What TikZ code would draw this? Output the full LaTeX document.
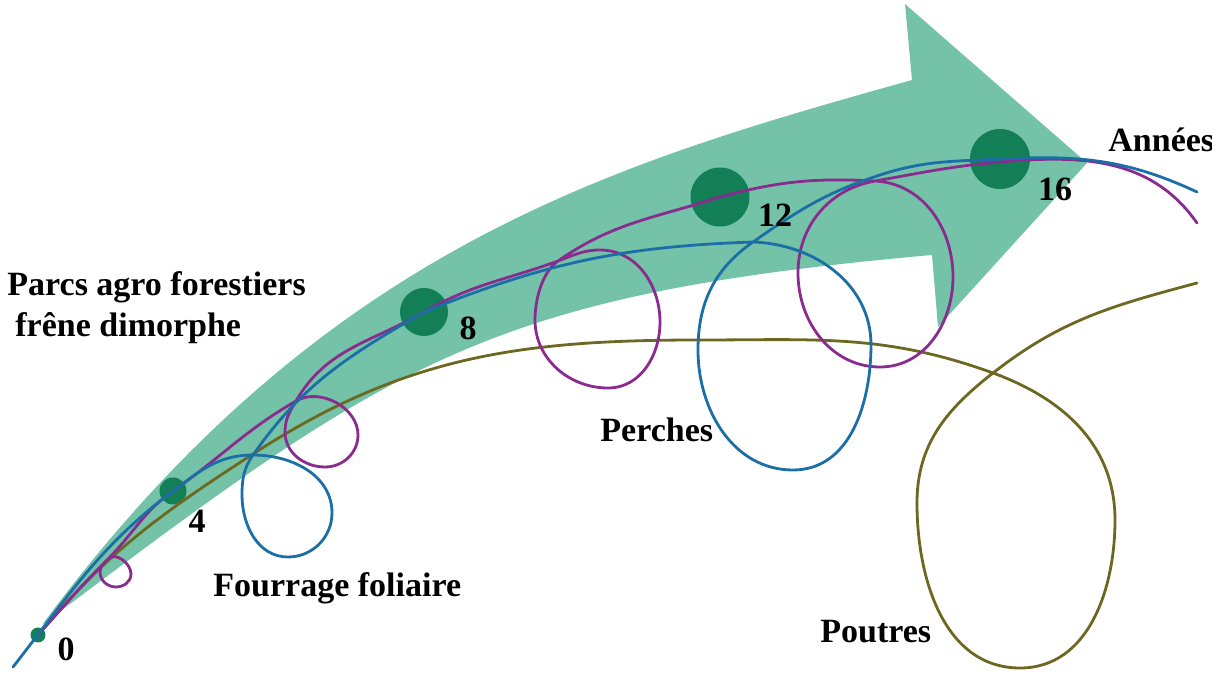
\documentclass[tikz,border=0pt]{standalone}
\usepackage{fontspec}
\setmainfont{Liberation Serif}
\definecolor{arrowgreen}{HTML}{74C3A8}
\definecolor{dotgreen}{HTML}{127F57}
\definecolor{leafpurple}{HTML}{8A2B8F}
\definecolor{poleblue}{HTML}{1C6FA6}
\definecolor{beamolive}{HTML}{6D6821}
\tikzset{
  yeardot/.style={circle, fill=dotgreen, inner sep=0pt},
  yearnum/.style={font=\bfseries\fontsize{17}{20}\selectfont},
  phase/.style={font=\bfseries\fontsize{17}{20.5}\selectfont, anchor=base west},
  track/.style={line width=1.4pt, line cap=round, line join=round},
}

\begin{document}
\begin{tikzpicture}[x=0.5pt,y=0.5pt]
    \tikzstyle{every node}+=[inner sep=0pt]
    \useasboundingbox (0,0) rectangle (1212,-673);
    \fill [arrowgreen] (42,-625) .. controls (322,-247) and (612,-164) .. (912,-80)
      -- (905,-4) -- (1087,-163) -- (938,-327) -- (932,-255)
      .. controls (482,-295) and (392,-362) .. (42,-625) -- cycle;
    \node [yeardot, minimum size=7.5pt] (y0) at (38,-635) {};
    \node [yeardot, minimum size=13.5pt] (y4) at (173,-491) {};
    \node [yeardot, minimum size=24pt] (y8) at (424,-312) {};
    \node [yeardot, minimum size=29.5pt] (y12) at (720,-197) {};
    \node [yeardot, minimum size=30pt] (y16) at (1000,-159) {};
    \coordinate (bstart) at (13,-667);
    \coordinate (bx1) at (253,-455);
    \coordinate (bx2) at (753,-242);
    \coordinate (bend) at (1197,-192);
    \coordinate (px1) at (108,-559);
    \coordinate (px2) at (296,-401);
    \coordinate (px3) at (558,-261);
    \coordinate (px4) at (875,-181);
    \coordinate (p16) at (1000,-162);
    \coordinate (pend) at (1197,-223);
    \coordinate (ox1) at (253,-454);
    \coordinate (otop) at (700,-340);
    \coordinate (ox2) at (993,-373);
    \coordinate (oend) at (1197,-283);
    \draw [track, beamolive] (y0.center) to[out=50,in=213] (ox1) to[out=33,in=180] (otop)
      to[out=0,in=160] (ox2) to[out=-20,in=90] (1115,-520) to[out=-90,in=0] (1020,-668)
      to[out=180,in=-90] (917,-503) to[out=90,in=218] (ox2) to[out=38,in=195] (oend);
    \draw [track, leafpurple] (y0.center) to[out=48,in=225] (px1) to[out=45,in=90] (131,-574)
      to[out=-90,in=0] (116,-587) to[out=180,in=-90] (100,-572) to[out=90,in=225] (px1)
      to[out=45,in=215] (y4.center) to[out=35,in=210] (px2) to[out=30,in=90] (358,-435)
      to[out=-90,in=0] (325,-467) to[out=180,in=-90] (285,-432) to[out=90,in=240] (px2)
      to[out=60,in=210] (y8.center) to[out=30,in=200] (px3) to[out=20,in=180] (600,-250)
      to[out=0,in=90] (660,-322) to[out=-90,in=0] (608,-388) to[out=180,in=-90] (535,-320)
      to[out=90,in=215,looseness=0.8] (px3)
      to[out=35,in=198] (y12.center) to[out=15,in=177] (px4) to[out=-3,in=90] (953,-277)
      to[out=-90,in=0] (880,-367) to[out=180,in=-90] (798,-273) to[out=90,in=190] (px4)
      to[out=10,in=185] (p16) to[out=5,in=125] (pend);
    \draw [track, poleblue] (bstart) to[out=52,in=217] (y4.center) to[out=37,in=180] (bx1)
      to[out=0,in=90] (332,-513) to[out=-90,in=0] (288,-557) to[out=180,in=-90] (242,-495)
      to[out=90,in=235] (bx1) to[out=55,in=210] (y8.center) to[out=22,in=182] (bx2)
      to[out=-2,in=90] (871,-345) to[out=-90,in=0] (793,-470) to[out=180,in=-90] (698,-350)
      to[out=90,in=215] (bx2) to[out=35,in=198] (880,-175) to[out=18,in=183] (y16.center)
      to[out=3,in=155] (bend);
    \node [yearnum] (n0) at (66,-649) {0};
    \node [yearnum] (n4) at (197,-521) {4};
    \node [yearnum] (n8) at (468,-328) {8};
    \node [yearnum] (n12) at (775,-215) {12};
    \node [yearnum] (n16) at (1055,-189) {16};
    \node [phase] (annees) at (1108,-152) {Années};
    \node [phase] (parcs) at (7,-296) {Parcs agro forestiers};
    \node [phase] (frene) at (15,-337) {frêne dimorphe};
    \node [phase] (fourrage) at (213,-597) {Fourrage foliaire};
    \node [phase] (perches) at (600,-442) {Perches};
    \node [phase] (poutres) at (820,-643) {Poutres};
\end{tikzpicture}
\end{document}
